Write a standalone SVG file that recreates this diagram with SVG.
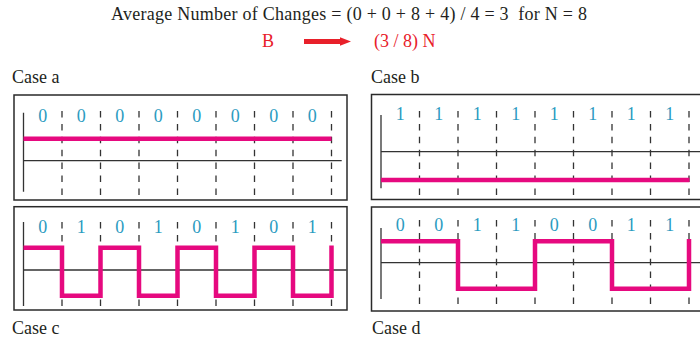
<svg xmlns="http://www.w3.org/2000/svg" width="700" height="339" viewBox="0 0 700 339">
<style>
text{font-family:"Liberation Serif","Times New Roman",serif}
.t{font-size:18px;fill:#231f20}
.r{font-size:18px;fill:#e8202a}
.d{font-size:18px;fill:#2b9bbf;text-anchor:middle}
.box{fill:#fff;stroke:#2a2a2a;stroke-width:1.5}
.ax{stroke:#333;stroke-width:1.3;fill:none}
.ds{stroke:#333;stroke-width:1.3;stroke-dasharray:6.5 6.4;fill:none}
.sig{stroke:#e6097f;stroke-width:4.5;fill:none;stroke-linejoin:miter;stroke-linecap:butt}
</style>
<rect width="700" height="339" fill="#fff"/>
<g id="title">
<text class="t" x="111" y="20" xml:space="preserve" textLength="476" lengthAdjust="spacing">Average Number of Changes = (0 + 0 + 8 + 4) / 4 = 3  for N = 8</text>
</g>
<g id="formula">
<text class="r" x="262" y="47">B</text>
<text class="r" x="374" y="47">(3 / 8) N</text>
</g>
<g id="connectors">
<path d="M304 41.5H341" stroke="#e8202a" stroke-width="5"/>
<polygon points="340,37.3 351,41.5 340,45.7" fill="#e8202a"/>
</g>
<g id="case-a">
<text class="t" x="12" y="83">Case a</text>
<rect class="box" x="14" y="95" width="333" height="105"/>
<path class="ax" d="M23.5 112.7V191.7M23.5 160.7H341.7"/>
<path class="ds" d="M62 111V196M100.5 111V196M139 111V196M177.5 111V196M216 111V196M254.5 111V196M293 111V196M331.5 111V196"/>
<path class="sig" d="M23.5 138.7H331.5"/>
<g>
<text class="d" x="42.75" y="122">0</text><text class="d" x="81.25" y="122">0</text><text class="d" x="119.75" y="122">0</text><text class="d" x="158.25" y="122">0</text><text class="d" x="196.75" y="122">0</text><text class="d" x="235.25" y="122">0</text><text class="d" x="273.75" y="122">0</text><text class="d" x="312.25" y="122">0</text>
</g>
</g>
<g id="case-b">
<text class="t" x="371" y="83">Case b</text>
<rect class="box" x="371.5" y="94.5" width="340" height="105"/>
<path class="ax" d="M381 115V188.3M381 151.7H700"/>
<path class="ds" d="M419.5 111V196M458 111V196M496.5 111V196M535 111V196M573.5 111V196M612 111V196M650.5 111V196M689 111V196"/>
<path class="sig" d="M381 180H689.5"/>
<g>
<text class="d" x="400.25" y="119.5">1</text><text class="d" x="438.75" y="119.5">1</text><text class="d" x="477.25" y="119.5">1</text><text class="d" x="515.75" y="119.5">1</text><text class="d" x="554.25" y="119.5">1</text><text class="d" x="592.75" y="119.5">1</text><text class="d" x="631.25" y="119.5">1</text><text class="d" x="669.75" y="119.5">1</text>
</g>
</g>
<g id="case-c">
<rect class="box" x="14" y="206.7" width="333" height="103.3"/>
<path class="ax" d="M23.5 222V306M23.5 270H346.5"/>
<path class="ds" d="M62 222V310M100.5 222V310M139 222V310M177.5 222V310M216 222V310M254.5 222V310M293 222V310M331.5 222V310"/>
<path class="sig" d="M23.5 247.7H62V295.7H100.5V247.7H139V295.7H177.5V247.7H216V295.7H254.5V247.7H293V295.7H331.5V245.5"/>
<g>
<text class="d" x="42.75" y="232.5">0</text><text class="d" x="81.25" y="232.5">1</text><text class="d" x="119.75" y="232.5">0</text><text class="d" x="158.25" y="232.5">1</text><text class="d" x="196.75" y="232.5">0</text><text class="d" x="235.25" y="232.5">1</text><text class="d" x="273.75" y="232.5">0</text><text class="d" x="312.25" y="232.5">1</text>
</g>
<text class="t" x="12" y="334">Case c</text>
</g>
<g id="case-d">
<rect class="box" x="371.5" y="207" width="340" height="104"/>
<path class="ax" d="M381 228V299M381 262.7H700"/>
<path class="ds" d="M419.5 220V306M458 220V306M496.5 220V306M535 220V306M573.5 220V306M612 220V306M650.5 220V306M689 220V306"/>
<path class="sig" d="M381 241.3H458V288.7H535V241.3H612V288.7H689V239.1"/>
<g>
<text class="d" x="400.25" y="231">0</text><text class="d" x="438.75" y="231">0</text><text class="d" x="477.25" y="231">1</text><text class="d" x="515.75" y="231">1</text><text class="d" x="554.25" y="231">0</text><text class="d" x="592.75" y="231">0</text><text class="d" x="631.25" y="231">1</text><text class="d" x="669.75" y="231">1</text>
</g>
<text class="t" x="372" y="334">Case d</text>
</g>
</svg>
